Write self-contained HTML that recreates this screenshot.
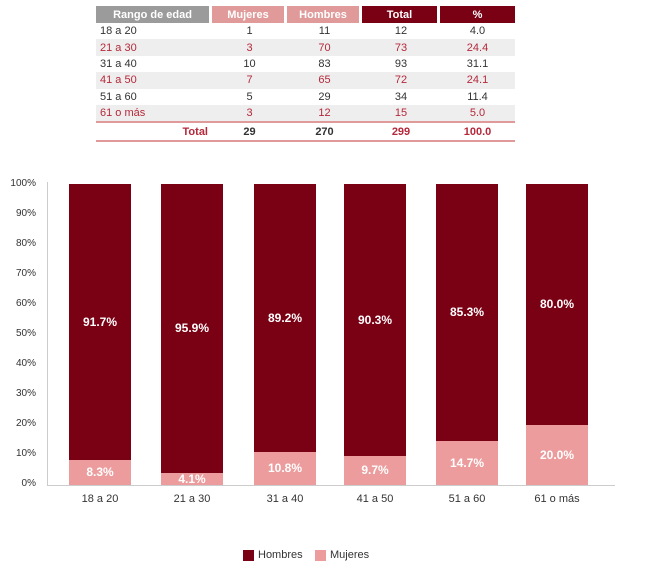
<!DOCTYPE html>
<html><head><meta charset="utf-8"><style>
body{margin:0;width:646px;height:573px;background:#fff;font-family:"Liberation Sans Narrow","Liberation Sans",sans-serif;position:relative;overflow:hidden}
.a{position:absolute}
table{position:absolute;left:96px;top:6px;border-collapse:separate;border-spacing:0;font-size:11px}
td{height:16.4px;padding:0;text-align:center;color:#333}
th{height:17px;padding:0;color:#fff;font-weight:bold;font-size:11px;border-right:3px solid #fff}
tr.r td{background:#eeeeee;color:#b5283a}
.yl{position:absolute;left:0;width:36px;text-align:right;font-size:10px;color:#333}
.bar{position:absolute;width:62px}
.h{background:#7a0014}.m{background:#ec9c9c}
.lb{position:absolute;width:62px;text-align:center;color:#fff;font-weight:bold;font-size:12px}
.xl{position:absolute;width:90px;text-align:center;font-size:11px;color:#333;top:493px}
</style></head><body>
<table>
<tr><th style="width:113px;background:#9b9b9b">Rango de edad</th><th style="width:72px;background:#e09a9a">Mujeres</th><th style="width:72px;background:#e09a9a">Hombres</th><th style="width:75px;background:#7a0014">Total</th><th style="width:75px;background:#7a0014;border-right:0">%</th></tr>
<tr><td style="text-align:left;padding-left:4px">18 a 20</td><td>1</td><td>11</td><td>12</td><td>4.0</td></tr>
<tr class="r"><td style="text-align:left;padding-left:4px">21 a 30</td><td>3</td><td>70</td><td>73</td><td>24.4</td></tr>
<tr><td style="text-align:left;padding-left:4px">31 a 40</td><td>10</td><td>83</td><td>93</td><td>31.1</td></tr>
<tr class="r"><td style="text-align:left;padding-left:4px">41 a 50</td><td>7</td><td>65</td><td>72</td><td>24.1</td></tr>
<tr><td style="text-align:left;padding-left:4px">51 a 60</td><td>5</td><td>29</td><td>34</td><td>11.4</td></tr>
<tr class="r"><td style="text-align:left;padding-left:4px">61 o más</td><td>3</td><td>12</td><td>15</td><td>5.0</td></tr>
<tr><td style="text-align:right;padding-right:4px;font-weight:bold;color:#b5283a;border-top:2px solid #e09a9a;border-bottom:2px solid #e09a9a;height:16px">Total</td><td style="font-weight:bold;border-top:2px solid #e09a9a;border-bottom:2px solid #e09a9a">29</td><td style="font-weight:bold;border-top:2px solid #e09a9a;border-bottom:2px solid #e09a9a">270</td><td style="font-weight:bold;color:#b5283a;border-top:2px solid #e09a9a;border-bottom:2px solid #e09a9a">299</td><td style="font-weight:bold;color:#b5283a;border-top:2px solid #e09a9a;border-bottom:2px solid #e09a9a">100.0</td></tr>
</table>

<div class="a" style="left:47px;top:182px;width:1px;height:304px;background:#ccc"></div>
<div class="a" style="left:47px;top:485px;width:568px;height:1px;background:#ccc"></div>

<div class="yl" style="top:178px">100%</div>
<div class="yl" style="top:208px">90%</div>
<div class="yl" style="top:238px">80%</div>
<div class="yl" style="top:268px">70%</div>
<div class="yl" style="top:298px">60%</div>
<div class="yl" style="top:328px">50%</div>
<div class="yl" style="top:358px">40%</div>
<div class="yl" style="top:388px">30%</div>
<div class="yl" style="top:418px">20%</div>
<div class="yl" style="top:448px">10%</div>
<div class="yl" style="top:478px">0%</div>

<div class="bar h" style="left:69px;top:184px;height:276px"></div><div class="bar m" style="left:69px;top:460px;height:25px"></div>
<div class="lb" style="left:69px;top:315px">91.7%</div><div class="lb" style="left:69px;top:465px">8.3%</div>

<div class="bar h" style="left:161px;top:184px;height:289px"></div><div class="bar m" style="left:161px;top:473px;height:12px"></div>
<div class="lb" style="left:161px;top:321px">95.9%</div><div class="lb" style="left:161px;top:472px">4.1%</div>

<div class="bar h" style="left:254px;top:184px;height:268px"></div><div class="bar m" style="left:254px;top:452px;height:33px"></div>
<div class="lb" style="left:254px;top:311px">89.2%</div><div class="lb" style="left:254px;top:461px">10.8%</div>

<div class="bar h" style="left:344px;top:184px;height:272px"></div><div class="bar m" style="left:344px;top:456px;height:29px"></div>
<div class="lb" style="left:344px;top:313px">90.3%</div><div class="lb" style="left:344px;top:463px">9.7%</div>

<div class="bar h" style="left:436px;top:184px;height:257px"></div><div class="bar m" style="left:436px;top:441px;height:44px"></div>
<div class="lb" style="left:436px;top:305px">85.3%</div><div class="lb" style="left:436px;top:456px">14.7%</div>

<div class="bar h" style="left:526px;top:184px;height:241px"></div><div class="bar m" style="left:526px;top:425px;height:60px"></div>
<div class="lb" style="left:526px;top:297px">80.0%</div><div class="lb" style="left:526px;top:448px">20.0%</div>

<div class="xl" style="left:55px">18 a 20</div>
<div class="xl" style="left:147px">21 a 30</div>
<div class="xl" style="left:240px">31 a 40</div>
<div class="xl" style="left:330px">41 a 50</div>
<div class="xl" style="left:422px">51 a 60</div>
<div class="xl" style="left:512px">61 o más</div>

<div class="a" style="left:243px;top:550px;width:11px;height:11px;background:#7a0014"></div>
<div class="a" style="left:258px;top:549px;font-size:11px;color:#333">Hombres</div>
<div class="a" style="left:315px;top:550px;width:11px;height:11px;background:#ec9c9c"></div>
<div class="a" style="left:330px;top:549px;font-size:11px;color:#333">Mujeres</div>
</body></html>
